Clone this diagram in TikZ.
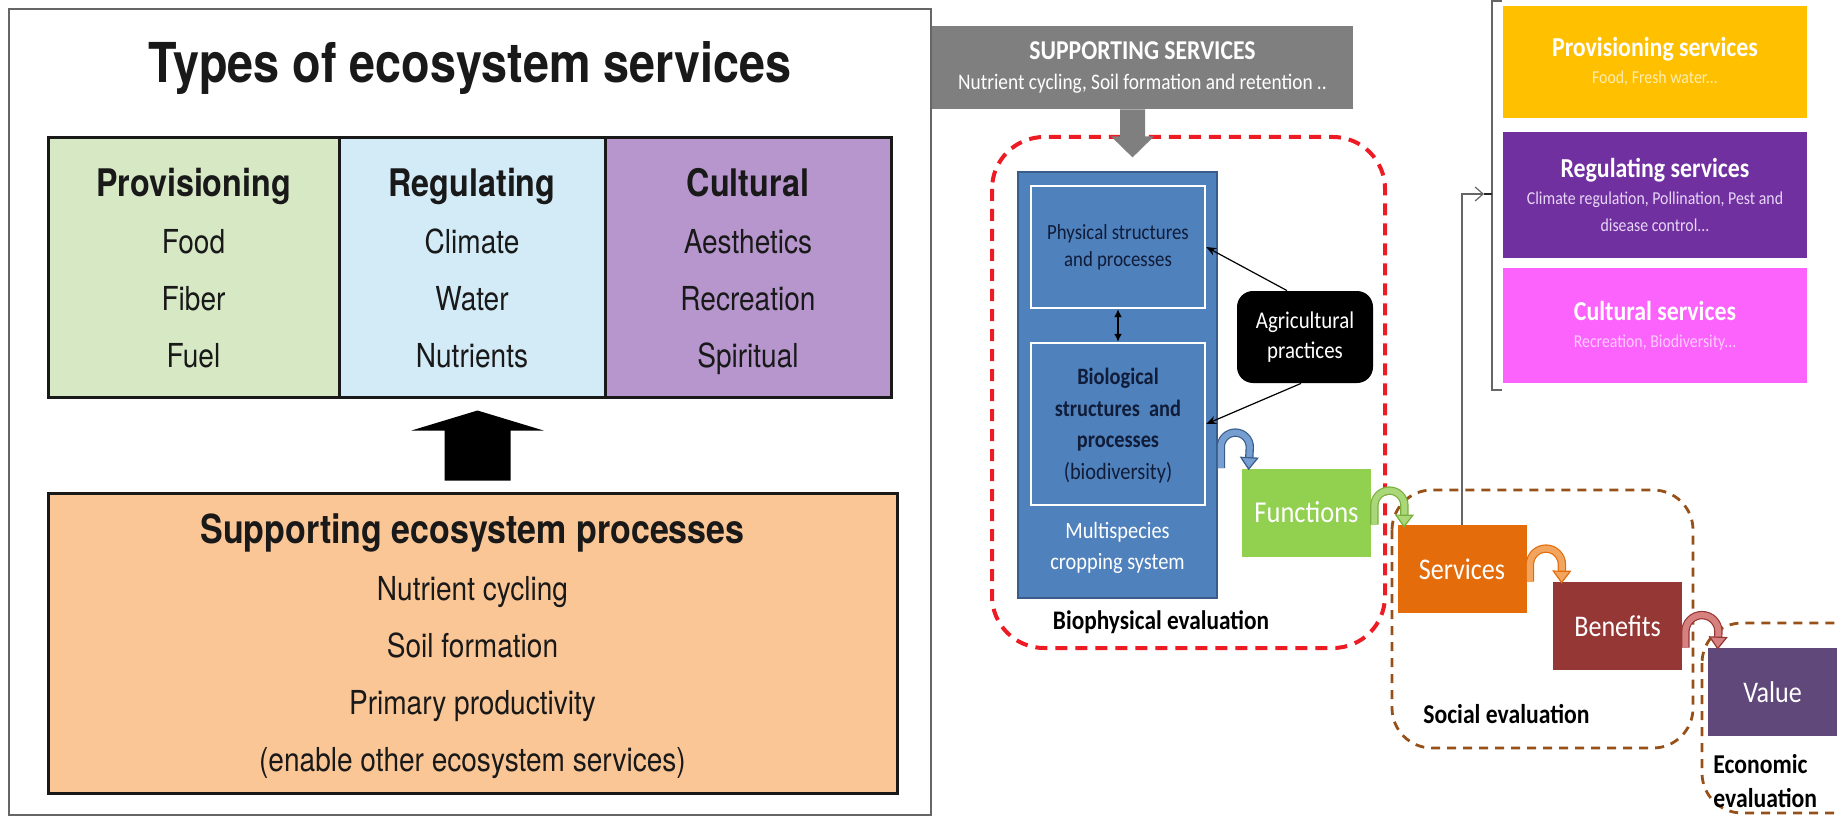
\documentclass[tikz,border=0pt]{standalone}
\usepackage{fontspec}
\setmainfont{TeX Gyre Heros}
\newfontfamily\helvcn[FakeStretch=0.85]{TeX Gyre Heros}
\newfontfamily\calib[FakeStretch=0.87]{Carlito}
\usetikzlibrary{arrows.meta, positioning, calc}
\definecolor{provgreen}{RGB}{214,232,196}
\definecolor{reglblue}{RGB}{210,235,247}
\definecolor{cultlilac}{RGB}{182,150,205}
\definecolor{supporange}{RGB}{250,198,150}
\definecolor{inktext}{RGB}{25,25,25}
\definecolor{suppgray}{RGB}{127,127,127}
\definecolor{cropblue}{RGB}{79,129,189}
\definecolor{cropedge}{RGB}{56,93,138}
\definecolor{navytext}{RGB}{16,28,56}
\definecolor{funcgreen}{RGB}{146,208,80}
\definecolor{servorange}{RGB}{228,108,10}
\definecolor{benred}{RGB}{149,55,53}
\definecolor{valpurple}{RGB}{96,73,122}
\definecolor{biored}{RGB}{237,28,36}
\definecolor{socbrown}{RGB}{151,81,24}
\definecolor{provyellow}{RGB}{255,192,0}
\definecolor{regpurple}{RGB}{112,48,160}
\definecolor{cultpink}{RGB}{252,98,252}
\definecolor{provsub}{RGB}{255,236,180}
\definecolor{regsub}{RGB}{232,214,246}
\definecolor{cultsub}{RGB}{255,205,255}
\definecolor{arwblue}{RGB}{118,158,208}
\definecolor{arwgreen}{RGB}{170,215,120}
\definecolor{arwgreenedge}{RGB}{120,175,60}
\definecolor{arworange}{RGB}{242,165,95}
\definecolor{arwpink}{RGB}{214,128,128}
\tikzset{
  cell/.style={draw=inktext, line width=1.5pt, inner sep=0pt, align=center, text=inktext, text depth=0pt,
    minimum height=129.5pt, font=\helvcn\fontsize{16.5}{28.5}\selectfont},
  rbox/.style={inner sep=0pt, align=center, text=white},
  blueinner/.style={draw=white, line width=1.2pt, fill=cropblue, inner sep=0pt, align=center,
    text=navytext, minimum width=87pt},
  evalbox/.style={rbox, minimum width=64.5pt, minimum height=44pt, font=\calib\fontsize{15}{18}\selectfont},
  evallabel/.style={inner sep=0pt, text=black, font=\calib\bfseries\fontsize{13.6}{17}\selectfont},
  svcbox/.style={rbox, minimum width=152pt, font=\calib\fontsize{9.1}{13.5}\selectfont},
  reddash/.style={draw=biored, line width=2pt, dash pattern=on 6pt off 4pt, rounded corners=26pt},
  browndash/.style={draw=socbrown, line width=1.4pt, dash pattern=on 4.5pt off 3.5pt, rounded corners=20pt},
  thinarrow/.style={draw=black, line width=0.6pt, -{Stealth[length=5pt,width=4pt]}},
  bendarrow/.style 2 args={draw=#1, line width=3pt,
    preaction={draw=#2, line width=4.2pt, shorten >=5pt, arrows=-},
    -{Triangle[width=9.5pt,length=6.5pt,fill=#1,color=#2,line width=0.6pt]}},
  graylink/.style={draw=black!60, line width=0.6pt},
}

\begin{document}
\begin{tikzpicture}[x=0.5pt, y=-0.5pt]
    \useasboundingbox (0,0) rectangle (1841,818);

    % Left panel frame and title
    \draw[black!60, line width=1pt] (9,9) rectangle (931,815);
    \node[anchor=base, inner sep=0pt, text=inktext, font=\helvcn\bfseries\fontsize{27.5}{30}\selectfont]
        (title) at (470,83) {Types of ecosystem services};

    % Service types table
    \node[cell, fill=provgreen, minimum width=145.5pt] (provcell) at (193.5,267.5)
        {{\bfseries\fontsize{19}{28.5}\selectfont Provisioning}\\Food\\Fiber\\Fuel};
    \node[cell, fill=reglblue, minimum width=133pt] (regcell) at (472,267.5)
        {{\bfseries\fontsize{19}{28.5}\selectfont Regulating}\\Climate\\Water\\Nutrients};
    \node[cell, fill=cultlilac, minimum width=143pt] (cultcell) at (748,267.5)
        {{\bfseries\fontsize{19}{28.5}\selectfont Cultural}\\Aesthetics\\Recreation\\Spiritual};

    % Supporting processes
    \node[cell, fill=supporange, minimum width=424.5pt, minimum height=150pt] (supp) at (472.5,643)
        {{\bfseries\fontsize{20}{28.5}\selectfont Supporting ecosystem processes}\\Nutrient cycling\\Soil formation\\Primary productivity\\(enable other ecosystem services)};
    \fill[black] ($(supp.north)+(-28,-11)$) -- ++(0,-50) -- ++(-33,0) -- ($(supp.north)+(5,-81)$)
        -- ($(supp.north)+(71,-61)$) -- ++(-33,0) -- ($(supp.north)+(38,-11)$) -- cycle;

    % Right panel: supporting services
    \node[rbox, fill=suppgray, minimum width=210.5pt, minimum height=41.5pt, font=\calib\fontsize{11.1}{15}\selectfont]
        (supbox) at (1142.5,67.5) {{\bfseries\fontsize{13.6}{15}\selectfont SUPPORTING SERVICES}\\Nutrient cycling, Soil formation and retention ..};
    \draw[reddash] (992,137) rectangle (1385,648);
    \fill[suppgray] ($(supbox.south)+(-22.5,0)$) -- ++(0,27) -- ++(-9,0) -- ($(supbox.south)+(-10,48)$)
        -- ($(supbox.south)+(11.5,27)$) -- ++(-9,0) -- ($(supbox.south)+(2.5,0)$) -- cycle;

    % Cropping system
    \node[draw=cropedge, fill=cropblue, line width=0.8pt, inner sep=0pt, minimum width=99.5pt, minimum height=213pt]
        (crop) at (1117.5,385) {};
    \node[blueinner, minimum height=61pt, font=\calib\fontsize{10.8}{13.5}\selectfont] (phys) at (1118,247)
        {Physical structures\\and processes};
    \node[blueinner, minimum height=81pt, text depth=0pt, font=\calib\fontsize{11.7}{15.75}\selectfont] (bio) at (1118,424)
        {{\bfseries Biological}\\{\bfseries structures~ and}\\{\bfseries processes}\\(biodiversity)};
    \node[inner sep=0pt, align=center, text=white, font=\calib\fontsize{11.7}{15.5}\selectfont] (croptxt) at (1117.5,548)
        {Multispecies\\cropping system};
    \node[anchor=base, inner sep=0pt, font=\calib\bfseries\fontsize{13.4}{16}\selectfont] (biolabel) at (1161,629)
        {Biophysical evaluation};
    \draw[line width=1pt, {Latex[length=4pt,width=4pt]}-{Latex[length=4pt,width=4pt]}] (phys.south) -- (bio.north);

    % Agricultural practices
    \node[rbox, fill=black, rounded corners=8pt, minimum width=68pt, minimum height=46pt, font=\calib\fontsize{12}{15}\selectfont]
        (agri) at (1305,337) {Agricultural\\practices};
    \draw[thinarrow] ([xshift=-9pt]agri.north) -- (phys.east);
    \draw[thinarrow] ([xshift=-2pt]agri.south) -- (bio.east);

    % Evaluation chain
    \node[evalbox, fill=funcgreen, font=\calib\fontsize{15.2}{18}\selectfont] (fun) at (1306.5,512.5) {Functions};
    \draw[browndash] (1392,490) rectangle (1693,748);
    \begin{scope}
        \clip (0,0) rectangle (1841,818);
        \draw[browndash] (1702,623) rectangle (1880,813);
    \end{scope}
    \node[evalbox, fill=servorange] (serv) at (1462,569) {Services};
    \node[evalbox, fill=benred] (ben) at (1617.5,626) {Benefits};
    \node[evalbox, fill=valpurple] (val) at (1772.5,692) {Value};
    \node[evallabel, anchor=base west] (soclabel) at (1423,723) {Social evaluation};
    \node[evallabel, anchor=north west, align=left] (ecolabel) at (1713,754) {Economic\\evaluation};

    \draw[bendarrow={arwblue}{cropedge}] ([xshift=1.5pt]crop.east |- fun.north) -- ++(0,-21)
        arc[start angle=180, end angle=360, radius=14.5] -- ([xshift=3.5pt,yshift=-1pt]fun.north west);
    \draw[bendarrow={arwgreen}{arwgreenedge}] ([xshift=1.5pt]fun.east |- serv.north) -- ++(0,-19)
        arc[start angle=180, end angle=360, radius=15] -- ([xshift=3.5pt,yshift=-1.5pt]serv.north west);
    \draw[bendarrow={arworange}{servorange}] ([xshift=1.5pt]serv.east |- ben.north) -- ++(0,-17)
        arc[start angle=180, end angle=360, radius=16] -- ([xshift=4.5pt,yshift=-1pt]ben.north west);
    \draw[bendarrow={arwpink}{benred}] ([xshift=1.5pt]ben.east |- val.north) -- ++(0,-16)
        arc[start angle=180, end angle=360, radius=16.5] -- ([xshift=5pt,yshift=-1pt]val.north west);

    % Service categories
    \node[svcbox, fill=provyellow, minimum height=56pt] (provsvc) at (1655,62)
        {{\bfseries\fontsize{13.7}{13.5}\selectfont Provisioning services}\\\textcolor{provsub}{Food, Fresh water...}};
    \node[svcbox, fill=regpurple, minimum height=63pt] (regsvc) at (1655,195)
        {{\bfseries\fontsize{13.7}{13.5}\selectfont Regulating services}\\\textcolor{regsub}{Climate regulation, Pollination, Pest and}\\\textcolor{regsub}{disease control...}};
    \node[svcbox, fill=cultpink, minimum height=57.5pt] (cultsvc) at (1655,325.5)
        {{\bfseries\fontsize{13.7}{13.5}\selectfont Cultural services}\\\textcolor{cultsub}{Recreation, Biodiversity...}};

    % Link from services to categories
    \coordinate (brkmid) at (1484,194);
    \draw[graylink] (1502,1) -- (1492,1) -- (1492,390) -- (1502,390);
    \draw[graylink, draw=black!85] (1492,194) -- (brkmid);
    \draw[graylink, -{Straight Barb[length=4pt,width=7pt]}] (serv.north) |- (brkmid);

\end{tikzpicture}
\end{document}
